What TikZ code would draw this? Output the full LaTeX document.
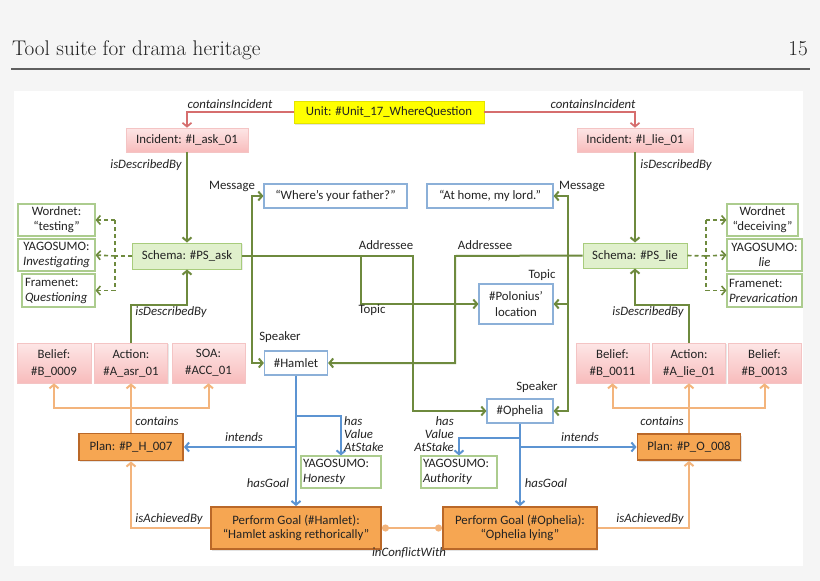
\documentclass[tikz,border=0pt]{standalone}
\usepackage{fontspec}
\newfontfamily\carl{Carlito}
\usetikzlibrary{arrows.meta,shadows}
\definecolor{bgray}{RGB}{245,245,245}
\definecolor{txt}{RGB}{35,35,35}
\definecolor{rulec}{RGB}{95,95,95}
\definecolor{gln}{RGB}{110,138,62}
\definecolor{bln}{RGB}{92,148,210}
\definecolor{oln}{RGB}{243,180,124}
\definecolor{rln}{RGB}{214,110,110}
\definecolor{pinkT}{RGB}{253,230,230}
\definecolor{pinkB}{RGB}{248,188,188}
\definecolor{pinkD}{RGB}{244,196,196}
\definecolor{schF}{RGB}{224,240,204}
\definecolor{schD}{RGB}{168,204,124}
\definecolor{wdD}{RGB}{172,204,142}
\definecolor{blD}{RGB}{140,176,216}
\definecolor{orF}{RGB}{246,166,82}
\definecolor{orD}{RGB}{186,104,40}
\definecolor{yelF}{RGB}{255,255,0}
\definecolor{yelD}{RGB}{228,228,0}
\tikzset{
  bx/.style={rectangle, inner sep=2pt, align=center, text=txt,
    font=\carl\fontsize{12.8}{15.5}\selectfont},
  pinkbox/.style={bx, top color=pinkT, bottom color=pinkB, draw=pinkD, line width=0.6pt,
    drop shadow={shadow xshift=1pt, shadow yshift=-1.2pt, opacity=0.18}},
  schbox/.style={bx, fill=schF, draw=schD, line width=1pt,
    drop shadow={shadow xshift=1pt, shadow yshift=-1.2pt, opacity=0.15}},
  wdbox/.style={bx, fill=white, draw=wdD, line width=1.1pt},
  blbox/.style={bx, fill=white, draw=blD, line width=1.2pt},
  orbox/.style={bx, fill=orF, draw=orD, line width=1.9pt,
    drop shadow={shadow xshift=1.2pt, shadow yshift=-1.5pt, opacity=0.22}},
  unitbox/.style={bx, fill=yelF, draw=yelD, line width=0.6pt,
    drop shadow={shadow xshift=1.2pt, shadow yshift=-1.5pt, opacity=0.22}},
  tip/.style={-{Straight Barb[length=3.8pt,width=9pt]}},
  gl/.style={draw=gln, line width=2pt},
  gdash/.style={draw=gln, line width=1.6pt, dash pattern=on 4pt off 3pt},
  bl/.style={draw=bln, line width=2pt},
  ol/.style={draw=oln, line width=2pt},
  rl/.style={draw=rln, line width=1.7pt},
  lab/.style={inner sep=0, text=txt, font=\carl\itshape\fontsize{12.8}{13}\selectfont},
  ulab/.style={inner sep=0, text=txt, font=\carl\fontsize{12.8}{13}\selectfont},
}
\begin{document}
\begin{tikzpicture}[x=1pt,y=-1pt]
\useasboundingbox (0,0) rectangle (820,581);
\fill[bgray] (0,0) rectangle (820,581);
\fill[white] (14,90.5) rectangle (803,566);
% header
\node[anchor=base west, inner sep=0, text=black!88, font=\fontsize{21.2}{24}\selectfont] (title) at (12,55.7) {Tool suite for drama heritage};
\node[anchor=base east, inner sep=0, text=black!88, font=\fontsize{21.2}{24}\selectfont] (pageno) at (808,55.7) {15};
\draw[rulec, line width=1.3pt] (11,69) -- (810,69);

% nodes
\node[unitbox, minimum width=190pt, minimum height=22pt] (unit) at (389,112) {Unit: \#Unit\_17\_WhereQuestion};
\node[pinkbox, minimum width=122pt, minimum height=24pt] (iask) at (187,140) {Incident: \#I\_ask\_01};
\node[pinkbox, minimum width=116pt, minimum height=24pt] (ilie) at (635,140) {Incident: \#I\_lie\_01};
\node[schbox, minimum width=109pt, minimum height=26pt] (schask) at (187,256) {Schema: \#PS\_ask};
\node[schbox, minimum width=104pt, minimum height=25pt] (schlie) at (635,255.5) {Schema: \#PS\_lie};

\node[wdbox, minimum width=77pt, minimum height=32pt, font=\carl\fontsize{12.8}{15}\selectfont] (wn1) at (56.5,220) {Wordnet:\\“testing”};
\node[wdbox, minimum width=77pt, minimum height=32pt, font=\carl\fontsize{12.8}{15}\selectfont] (ys1) at (56.5,255) {YAGOSUMO:\\\textit{Investigating}};
\node[wdbox, text width=67pt, inner xsep=3pt, align=left, minimum height=33pt, font=\carl\fontsize{12.8}{15}\selectfont] (fn1) at (58.5,290.5) {Framenet:\\\textit{Questioning}};
\node[wdbox, minimum width=71pt, minimum height=32pt, font=\carl\fontsize{12.8}{15}\selectfont] (wn2) at (762.5,220) {Wordnet\\“deceiving”};
\node[wdbox, minimum width=75pt, minimum height=32pt, font=\carl\fontsize{12.8}{15}\selectfont] (ys2) at (764.5,255) {YAGOSUMO:\\\textit{lie}};
\node[wdbox, text width=71pt, inner xsep=2pt, align=left, minimum height=33pt, font=\carl\fontsize{12.8}{15}\selectfont] (fn2) at (764.5,290.5) {Framenet:\\\textit{Prevarication}};

\node[blbox, minimum width=143pt, minimum height=24pt] (msg1) at (335.5,196) {“Where’s your father?”};
\node[blbox, minimum width=126pt, minimum height=24pt] (msg2) at (490,196) {“At home, my lord.”};
\node[blbox, minimum width=74pt, minimum height=40pt] (pol) at (516,304) {\#Polonius’\\location};
\node[blbox, minimum width=63pt, minimum height=24pt] (ham) at (296,363) {\#Hamlet};
\node[blbox, minimum width=66pt, minimum height=24pt] (oph) at (520,411) {\#Ophelia};

\node[pinkbox, minimum width=74pt, minimum height=40pt, font=\carl\fontsize{12.8}{17}\selectfont] (b9) at (54,363) {Belief:\\\#B\_0009};
\node[pinkbox, minimum width=73pt, minimum height=40pt, font=\carl\fontsize{12.8}{17}\selectfont] (aasr) at (131,363) {Action:\\\#A\_asr\_01};
\node[pinkbox, minimum width=73pt, minimum height=40pt, font=\carl\fontsize{12.8}{17}\selectfont] (soa) at (208.5,363) {SOA:\\\#ACC\_01};
\node[pinkbox, minimum width=73pt, minimum height=40pt, font=\carl\fontsize{12.8}{17}\selectfont] (b11) at (612.5,363) {Belief:\\\#B\_0011};
\node[pinkbox, minimum width=73pt, minimum height=40pt, font=\carl\fontsize{12.8}{17}\selectfont] (alie) at (689,363) {Action:\\\#A\_lie\_01};
\node[pinkbox, minimum width=73pt, minimum height=40pt, font=\carl\fontsize{12.8}{17}\selectfont] (b13) at (764.5,363) {Belief:\\\#B\_0013};

\node[orbox, minimum width=104pt, minimum height=27pt] (plan1) at (131,447) {Plan: \#P\_H\_007};
\node[orbox, minimum width=103pt, minimum height=26pt] (plan2) at (689,447) {Plan: \#P\_O\_008};
\node[wdbox, text width=76pt, inner xsep=2pt, align=left, minimum height=32pt, font=\carl\fontsize{12.8}{14.5}\selectfont] (hon) at (341,472) {YAGOSUMO:\\\textit{Honesty}};
\node[wdbox, text width=72pt, inner xsep=2pt, align=left, minimum height=32pt, font=\carl\fontsize{12.8}{14.5}\selectfont] (auth) at (459,472) {YAGOSUMO:\\\textit{Authority}};
\node[orbox, minimum width=170pt, minimum height=42pt, font=\carl\fontsize{12.8}{14.5}\selectfont] (pg1) at (296,528) {Perform Goal (\#Hamlet):\\“Hamlet asking rethorically”};
\node[orbox, minimum width=154pt, minimum height=42pt, font=\carl\fontsize{12.8}{14.5}\selectfont] (pg2) at (520,528) {Perform Goal (\#Ophelia):\\“Ophelia lying”};

% red connectors
\draw[rl, tip] (unit.west) -| (iask.north);
\draw[rl, tip] (unit.east) -| (ilie.north);
\node[lab] (l1) at (230,104) {containsIncident};
\node[lab] (l2) at (593,104) {containsIncident};

% green connectors
\draw[gl, tip] (iask.south) -- (schask.north);
\draw[gl, tip] (ilie.south) -- (schlie.north);
\node[lab] (l3) at (146,165) {isDescribedBy};
\node[lab] (l4) at (676,165) {isDescribedBy};

\coordinate (dl) at (115,256);
\draw[gdash] (schask.west) -- (dl);
\draw[gdash] (dl |- wn1.east) -- (dl |- fn1.east);
\draw[gdash, tip] (dl |- wn1.east) -- (wn1.east);
\draw[gdash, tip] (dl) -- (ys1.east);
\draw[gdash, tip] (dl |- fn1.east) -- (fn1.east);

\coordinate (dr) at (706,256);
\draw[gdash] (schlie.east) -- (dr);
\draw[gdash] (dr |- wn2.west) -- (dr |- fn2.west);
\draw[gdash, tip] (dr |- wn2.west) -- (wn2.west);
\draw[gdash, tip] (dr) -- (ys2.west);
\draw[gdash, tip] (dr |- fn2.west) -- (fn2.west);

\coordinate (sa) at (252,256);
\coordinate (ta) at (361,256);
\coordinate (aa) at (413,256);
\draw[gl, tip] (schask.east) -- (aa) |- (oph.west);
\draw[gl, tip] (sa) |- (msg1.west);
\draw[gl, tip] (sa) |- (ham.west);
\draw[gl, tip] (ta) |- (pol.west);

\coordinate (ab) at (455,256);
\coordinate (sb) at (568,256);
\draw[gl, tip] (schlie.west) -- (ab) |- (ham.east);
\draw[gl, tip] (sb) |- (msg2.east);
\draw[gl, tip] (sb) |- (pol.east);
\draw[gl, tip] (sb) |- (oph.east);

\node[ulab] (m1) at (232,186) {Message};
\node[ulab] (m2) at (582,186) {Message};
\node[ulab] (s1) at (280,337) {Speaker};
\node[ulab] (s2) at (537,387) {Speaker};
\node[ulab] (a1) at (386,245) {Addressee};
\node[ulab] (a2) at (485,245) {Addressee};
\node[ulab] (t1) at (372,310) {Topic};
\node[ulab] (t2) at (542,275) {Topic};

\draw[gl, tip] (aasr.north) -- ++(0,-38) -| (schask.south);
\draw[gl, tip] (alie.north) -- ++(0,-38) -| (schlie.south);
\node[lab] (l5) at (171,312) {isDescribedBy};
\node[lab] (l6) at (648,312) {isDescribedBy};

% orange contains
\coordinate (c1) at (131,408);
\draw[ol] (plan1.north) -- (c1);
\draw[ol, tip] (c1) -| (b9.south);
\draw[ol, tip] (c1) -| (soa.south);
\draw[ol, tip] (c1) -- (aasr.south);
\coordinate (c2) at (689,408);
\draw[ol] (plan2.north) -- (c2);
\draw[ol, tip] (c2) -| (b11.south);
\draw[ol, tip] (c2) -| (b13.south);
\draw[ol, tip] (c2) -- (alie.south);
\node[lab] (l7) at (157,421) {contains};
\node[lab] (l8) at (662,421) {contains};

% blue
\coordinate (h1) at (296,416);
\coordinate (h2) at (296,447);
\draw[bl, tip] (ham.south) -- (pg1.north);
\draw[bl, tip] (h1) -| (hon.north);
\draw[bl, tip] (h2) -- (plan1.east);
\coordinate (o1) at (520,438);
\coordinate (o2) at (520,447);
\draw[bl, tip] (oph.south) -- (pg2.north);
\draw[bl, tip] (o1) -| (auth.north);
\draw[bl, tip] (o2) -- (plan2.west);
\node[lab, anchor=west, align=left, font=\carl\itshape\fontsize{12.8}{13}\selectfont] (v1) at (344,434) {has\\Value\\AtStake};
\node[lab, anchor=east, align=right, font=\carl\itshape\fontsize{12.8}{13}\selectfont] (v2) at (454,434) {has\\Value\\AtStake};
\node[lab] (i1) at (244,437) {intends};
\node[lab] (i2) at (580,437) {intends};
\node[lab] (g1) at (268,483) {hasGoal};
\node[lab] (g2) at (546,483) {hasGoal};

% orange achieved / conflict
\draw[ol, tip] (pg1.west) -| (plan1.south);
\draw[ol, tip] (pg2.east) -| (plan2.south);
\node[lab] (l9) at (169,519) {isAchievedBy};
\node[lab] (l10) at (650,519) {isAchievedBy};
\draw[ol, {Circle[length=7pt,fill=oln]}-{Circle[length=7pt,fill=oln]}] (pg1.east) -- (pg2.west);
\node[lab] (l11) at (409,553) {inConflictWith};
\end{tikzpicture}
\end{document}
